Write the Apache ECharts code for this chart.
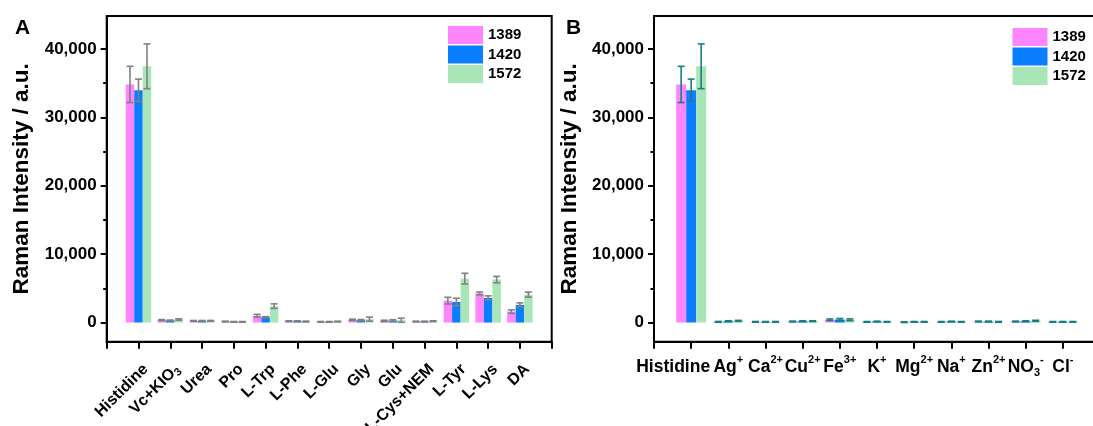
<!DOCTYPE html>
<html>
<head>
<meta charset="utf-8">
<script src="https://cdn.jsdelivr.net/npm/echarts@6/dist/echarts.min.js"></script>
<style>
html,body{margin:0;padding:0;background:#fff;}
#c{width:1093px;height:426px;}
</style>
</head>
<body>
<div id="c"></div>
<script>
// ---------- data ----------
const seriesNames = ['1389', '1420', '1572'];
const catsA = ['Histidine', 'Vc+KIO_3', 'Urea', 'Pro', 'L-Trp', 'L-Phe', 'L-Glu', 'Gly', 'Glu', 'L-Cys+NEM', 'L-Tyr', 'L-Lys', 'DA'];
const a1389 = [34800, 350, 240, 150, 1000, 200, 100, 390, 240, 150, 3200, 4250, 1600];
const a1420 = [33950, 300, 240, 100, 780, 200, 100, 340, 290, 150, 3000, 3600, 2580];
const a1572 = [37450, 450, 250, 100, 2400, 150, 150, 490, 340, 200, 6420, 6280, 4080];
const errA1389 = [2650, 80, 60, 50, 200, 60, 50, 100, 100, 50, 490, 200, 250];
const errA1420 = [1630, 60, 60, 50, 80, 60, 50, 100, 120, 50, 550, 300, 300];
const errA1572 = [3270, 100, 60, 50, 330, 60, 50, 300, 300, 60, 780, 460, 370];

const catsB = ['Histidine', 'Ag^+', 'Ca^2+', 'Cu^2+', 'Fe^3+', 'K^+', 'Mg^2+', 'Na^+', 'Zn^2+', 'NO_3^-', 'Cl^-'];
const b1389 = [34800, 100, 100, 150, 400, 100, 50, 100, 150, 150, 100];
const b1420 = [33950, 200, 100, 200, 440, 150, 100, 150, 150, 200, 100];
const b1572 = [37450, 250, 100, 200, 400, 100, 100, 100, 100, 250, 100];
const errB1389 = [2650, 60, 50, 60, 120, 50, 50, 50, 60, 60, 50];
const errB1420 = [1630, 60, 50, 60, 150, 50, 50, 50, 60, 60, 50];
const errB1572 = [3270, 70, 50, 60, 130, 50, 50, 50, 60, 80, 50];

const yMajor = [0, 10000, 20000, 30000, 40000];
const yMinor = [5000, 15000, 25000, 35000];
const yMin = -2800, yMax = 44800;

// ---------- styles ----------
const FONT = '"Liberation Sans", Arial, sans-serif';
const colors = ['#FF85FF', '#0A7EFF', '#A8E6B8'];

function toRich(s, mainStyle) {
  const parts = s.split(/(_[^_^]+|\^[^_^]+)/g).filter(p => p.length);
  return parts.map(p => {
    if (p[0] === '_') return '{sub|' + p.slice(1) + '}';
    if (p[0] === '^') return '{sup|' + p.slice(1) + '}';
    return '{' + (mainStyle || 'm') + '|' + p + '}';
  }).join('');
}

function richStyles(fs, lh, supLH, subLH) {
  return {
    m: {fontSize: fs, fontWeight: 'bold', fontFamily: FONT, color: '#000', lineHeight: lh},
    mh: {fontSize: fs, fontWeight: 'bold', fontFamily: FONT, color: '#000', lineHeight: lh, padding: [0, 36, 0, 0]},
    sup: {fontSize: 11, fontWeight: 'bold', fontFamily: FONT, color: '#000', lineHeight: supLH, verticalAlign: 'top'},
    sub: {fontSize: 11, fontWeight: 'bold', fontFamily: FONT, color: '#000', lineHeight: subLH, verticalAlign: 'bottom'}
  };
}

const grids = [
  {left: 106.7, top: 16, width: 445, height: 325.7, show: true, borderColor: '#000', borderWidth: 2,
   backgroundColor: 'transparent', containLabel: false, outerBoundsMode: 'none'},
  {left: 654, top: 16, width: 446, height: 325.7, show: true, borderColor: '#000', borderWidth: 2,
   backgroundColor: 'transparent', containLabel: false, outerBoundsMode: 'none'}
];

function xAxisFor(gi, cats, rotated) {
  return {
    type: 'value', gridIndex: gi, min: -1, max: cats.length, interval: 1,
    axisLine: {show: true, onZero: false, lineStyle: {color: '#000', width: 2}},
    axisTick: {show: true, inside: false, length: 7, lineStyle: {color: '#000', width: 2}},
    splitLine: {show: false},
    axisLabel: rotated ? {
      show: true, rotate: 45, margin: 18, verticalAlign: 'top', hideOverlap: false,
      formatter: v => (cats[v] !== undefined ? toRich(cats[v]) : ''),
      rich: richStyles(16, 20, 14, 6)
    } : {
      show: true, margin: 13, hideOverlap: false,
      formatter: v => (cats[v] !== undefined ? toRich(cats[v], v === 0 ? 'mh' : 'm') : ''),
      rich: richStyles(17.5, 24, 15, 3)
    }
  };
}

function yAxisMain(gi) {
  return {
    type: 'value', gridIndex: gi, min: yMin, max: yMax,
    name: 'Raman Intensity / a.u.', nameLocation: 'middle', nameGap: 73, nameRotate: 90,
    nameTextStyle: {fontSize: 22.5, fontWeight: 'bold', fontFamily: FONT, color: '#000'},
    axisLine: {show: true, onZero: false, lineStyle: {color: '#000', width: 2}},
    axisTick: {show: true, inside: false, length: 6, customValues: yMajor, lineStyle: {color: '#000', width: 2}},
    axisLabel: {show: true, margin: 10, customValues: yMajor, fontSize: 17, fontWeight: 'bold', fontFamily: FONT, color: '#000',
      formatter: v => v.toLocaleString('en-US')},
    splitLine: {show: false}
  };
}
function yAxisMinor(gi) {
  return {
    type: 'value', gridIndex: gi, min: yMin, max: yMax, position: 'left',
    axisLine: {show: false, onZero: false},
    axisTick: {show: true, inside: false, length: 3.5, customValues: yMinor, lineStyle: {color: '#000', width: 2}},
    axisLabel: {show: false},
    splitLine: {show: false}
  };
}

function barSeries(name, xi, yi, vals, color, bw) {
  return {
    name: name, type: 'bar', xAxisIndex: xi, yAxisIndex: yi,
    barWidth: bw, barGap: '0%',
    itemStyle: {color: color},
    data: vals.map((v, i) => [i, v]),
    animation: false
  };
}

function errSeries(xi, yi, valsList, errList, bw, color) {
  const data = [];
  valsList.forEach((vals, k) => vals.forEach((v, i) => data.push([i, v, errList[k][i], k])));
  return {
    type: 'custom', xAxisIndex: xi, yAxisIndex: yi, z: 5, animation: false, silent: true,
    renderItem: function (params, api) {
      const x = api.value(0), y = api.value(1), e = api.value(2), k = api.value(3);
      const base = api.coord([x, y]);
      const cx = base[0] + (k - 1) * bw;
      const t = api.coord([x, y + e])[1];
      const b = api.coord([x, y - e])[1];
      const cap = 3.5;
      const st = {stroke: color, lineWidth: 1.6};
      return {type: 'group', children: [
        {type: 'line', shape: {x1: cx, y1: t, x2: cx, y2: b}, style: st},
        {type: 'line', shape: {x1: cx - cap, y1: t, x2: cx + cap, y2: t}, style: st},
        {type: 'line', shape: {x1: cx - cap, y1: b, x2: cx + cap, y2: b}, style: st}
      ]};
    },
    encode: {x: 0, y: 1},
    data: data
  };
}

const legendCommon = {
  orient: 'vertical', itemWidth: 35, itemHeight: 18, itemGap: 1.5, icon: 'rect', padding: 0,
  data: seriesNames, selectedMode: false,
  textStyle: {fontSize: 15, fontWeight: 'bold', fontFamily: FONT, color: '#000'}
};

const option = {
  backgroundColor: '#fff',
  animation: false,
  grid: grids,
  xAxis: [xAxisFor(0, catsA, true), xAxisFor(1, catsB, false)],
  yAxis: [yAxisMain(0), yAxisMinor(0), yAxisMain(1), yAxisMinor(1)],
  legend: [
    Object.assign({left: 448, top: 26}, legendCommon),
    Object.assign({left: 1012.5, top: 28}, legendCommon)
  ],
  graphic: [
    {type: 'text', left: 15, top: 18, style: {text: 'A', font: 'bold 21px ' + FONT, fill: '#000'}},
    {type: 'text', left: 566, top: 18, style: {text: 'B', font: 'bold 21px ' + FONT, fill: '#000'}}
  ],
  series: [
    barSeries(seriesNames[0], 0, 0, a1389, colors[0], 8.5),
    barSeries(seriesNames[1], 0, 0, a1420, colors[1], 8.5),
    barSeries(seriesNames[2], 0, 0, a1572, colors[2], 8.5),
    errSeries(0, 0, [a1389, a1420, a1572], [errA1389, errA1420, errA1572], 8.5, '#808080'),
    barSeries(seriesNames[0], 1, 2, b1389, colors[0], 10),
    barSeries(seriesNames[1], 1, 2, b1420, colors[1], 10),
    barSeries(seriesNames[2], 1, 2, b1572, colors[2], 10),
    errSeries(1, 2, [b1389, b1420, b1572], [errB1389, errB1420, errB1572], 10, '#177F7F')
  ]
};

const chart = echarts.init(document.getElementById('c'), null, {renderer: 'canvas'});
chart.setOption(option);
</script>
</body>
</html>
